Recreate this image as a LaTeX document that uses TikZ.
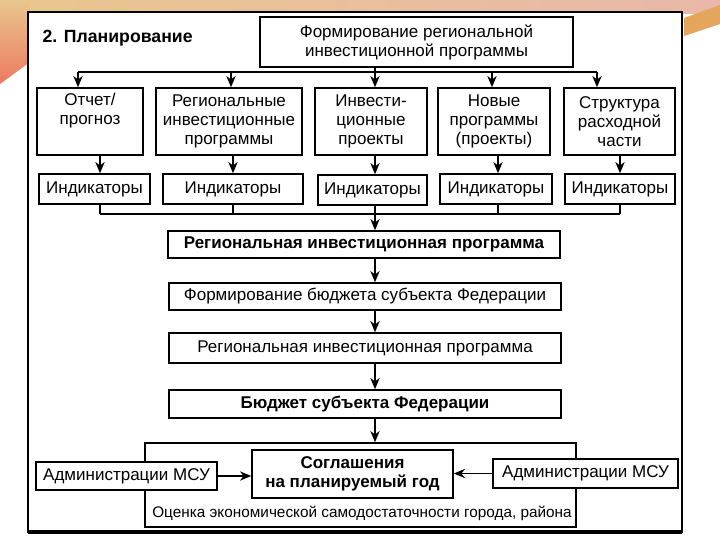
\documentclass[tikz,border=0pt]{standalone}
\usepackage{fontspec}
\setmainfont{Liberation Sans}
\usetikzlibrary{arrows.meta}

\definecolor{swooshtan}{RGB}{233,198,142}
\definecolor{swooshpink}{RGB}{233,184,170}
\definecolor{swooshred}{RGB}{236,122,96}
\definecolor{swooshorange}{RGB}{228,166,92}

\tikzset{every picture/.style={line width=1pt}}
\tikzset{
  box/.style={draw, fill=white, line width=1.1pt, align=center, inner sep=0.75pt,
    font=\fontsize{12.75}{14.25}\selectfont},
  boldbox/.style={box, font=\fontsize{12.75}{14.25}\selectfont\bfseries},
  arr/.style={-{Stealth[length=8.5pt,width=7pt]}},
}

\begin{document}
\begin{tikzpicture}[x=0.75pt,y=0.75pt,yscale=-1,xscale=1]
\useasboundingbox (0,0) rectangle (720,540);

%Shape: slide background
\fill[white] (0,0) rectangle (720,540);
\shade[left color=swooshtan, right color=swooshpink] (0,0) rectangle (720,13);
\shade[top color=swooshtan, bottom color=swooshred] (0,0) -- (30,0) -- (30,62) -- (0,84) -- cycle;
\fill[swooshorange] (684,18) -- (720,5) -- (720,24) -- (684,36) -- cycle;

%Shape: Frame
\draw[fill=white, line width=1.1pt] (28,12) rectangle (682,532);
\draw[line width=2.5pt] (28,532) -- (682,532);

% Text Node
\node[anchor=west, inner sep=0.75pt, font=\fontsize{13.25}{15}\selectfont\bfseries] (title) at (41,38) {2. Планирование};

%Shape: Rectangle
\node[box, minimum width=234.75pt, minimum height=37.5pt] (top) at (416.5,42) {Формирование региональной\\инвестиционной программы};

%Shape: Rectangle
\node[box, minimum width=79.5pt, minimum height=50.25pt] (B1) at (90,121.5) {Отчет/\\прогноз\\\strut};
\node[box, minimum width=109.5pt, minimum height=50.25pt] (B2) at (229,121.5) {Региональные\\инвестиционные\\программы};
\node[box, minimum width=84pt, minimum height=50.25pt] (B3) at (371,121.5) {Инвести-\\ционные\\проекты};
\node[box, minimum width=84pt, minimum height=50.25pt] (B4) at (494,121.5) {Новые\\программы\\(проекты)};
\node[box, minimum width=83.25pt, minimum height=50.25pt] (B5) at (619.5,121.5) {Структура\\расходной\\части};

%Shape: Rectangle
\node[box, minimum width=83.25pt, minimum height=22.5pt] (I1) at (94.5,189) {Индикаторы};
\node[box, minimum width=105pt, minimum height=22.5pt] (I2) at (233,189) {Индикаторы};
\node[box, minimum width=81.75pt, minimum height=22.5pt] (I3) at (372.5,190) {Индикаторы};
\node[box, minimum width=84pt, minimum height=22.5pt] (I4) at (496,189) {Индикаторы};
\node[box, minimum width=82.5pt, minimum height=22.5pt] (I5) at (620,189) {Индикаторы};

%Shape: Rectangle
\node[boldbox, minimum width=294pt, minimum height=20.25pt] (A) at (364,244.5) {Региональная инвестиционная программа};
\node[box, minimum width=294pt, minimum height=20.25pt] (Bx) at (365,296.5) {Формирование бюджета субъекта Федерации};
\node[box, minimum width=294pt, minimum height=22.5pt] (C) at (365,348) {Региональная инвестиционная программа};
\node[boldbox, minimum width=294pt, minimum height=21pt] (D) at (365,404) {Бюджет субъекта Федерации};

%Shape: Rectangle
\node[draw, line width=1.1pt, minimum width=323.25pt, minimum height=63pt] (zone) at (360.5,485) {};
\node[boldbox, minimum width=150.75pt, minimum height=36pt] (agr) at (352.5,474) {Соглашения\\на планируемый год};
\node[box, minimum width=135.75pt, minimum height=21pt] (admL) at (126.5,476) {Администрации МСУ};
\node[box, minimum width=138.75pt, minimum height=21.75pt] (admR) at (585.5,473.5) {Администрации МСУ};

% Text Node
\node[inner sep=0.75pt, font=\fontsize{11.5}{13}\selectfont] (est) at (362,513) {Оценка экономической самодостаточности города, района};

%Straight Lines
\coordinate (bus) at (375,72);
\coordinate (col) at (375,214);
\draw (top.south -| bus) -- (bus);
\draw (bus -| 78,0) -- (bus -| 597,0);
\foreach \n/\xx in {1/78,2/231,3/375,4/492,5/597}
  \draw[arr] (bus -| \xx,0) -- (B\n.north -| \xx,0);
\foreach \n/\xx in {1/100,2/233,3/375,4/498,5/620}{
  \draw[arr] (B\n.south -| \xx,0) -- (I\n.north -| \xx,0);
  \draw (I\n.south -| \xx,0) -- (col -| \xx,0);
}
\draw (col -| 100,0) -- (col -| 620,0);
\draw[arr] (col) -- (A.north -| col);
\draw[arr] (A.south -| col) -- (Bx.north -| col);
\draw[arr] (Bx.south -| col) -- (C.north -| col);
\draw[arr] (C.south -| col) -- (D.north -| col);
\draw[arr] (D.south -| col) -- (zone.north -| col);
\draw[arr] (admL.east) -- (agr.west |- admL.east);
\draw[arr] (admR.west) -- (agr.east |- admR.west);

\end{tikzpicture}
\end{document}
